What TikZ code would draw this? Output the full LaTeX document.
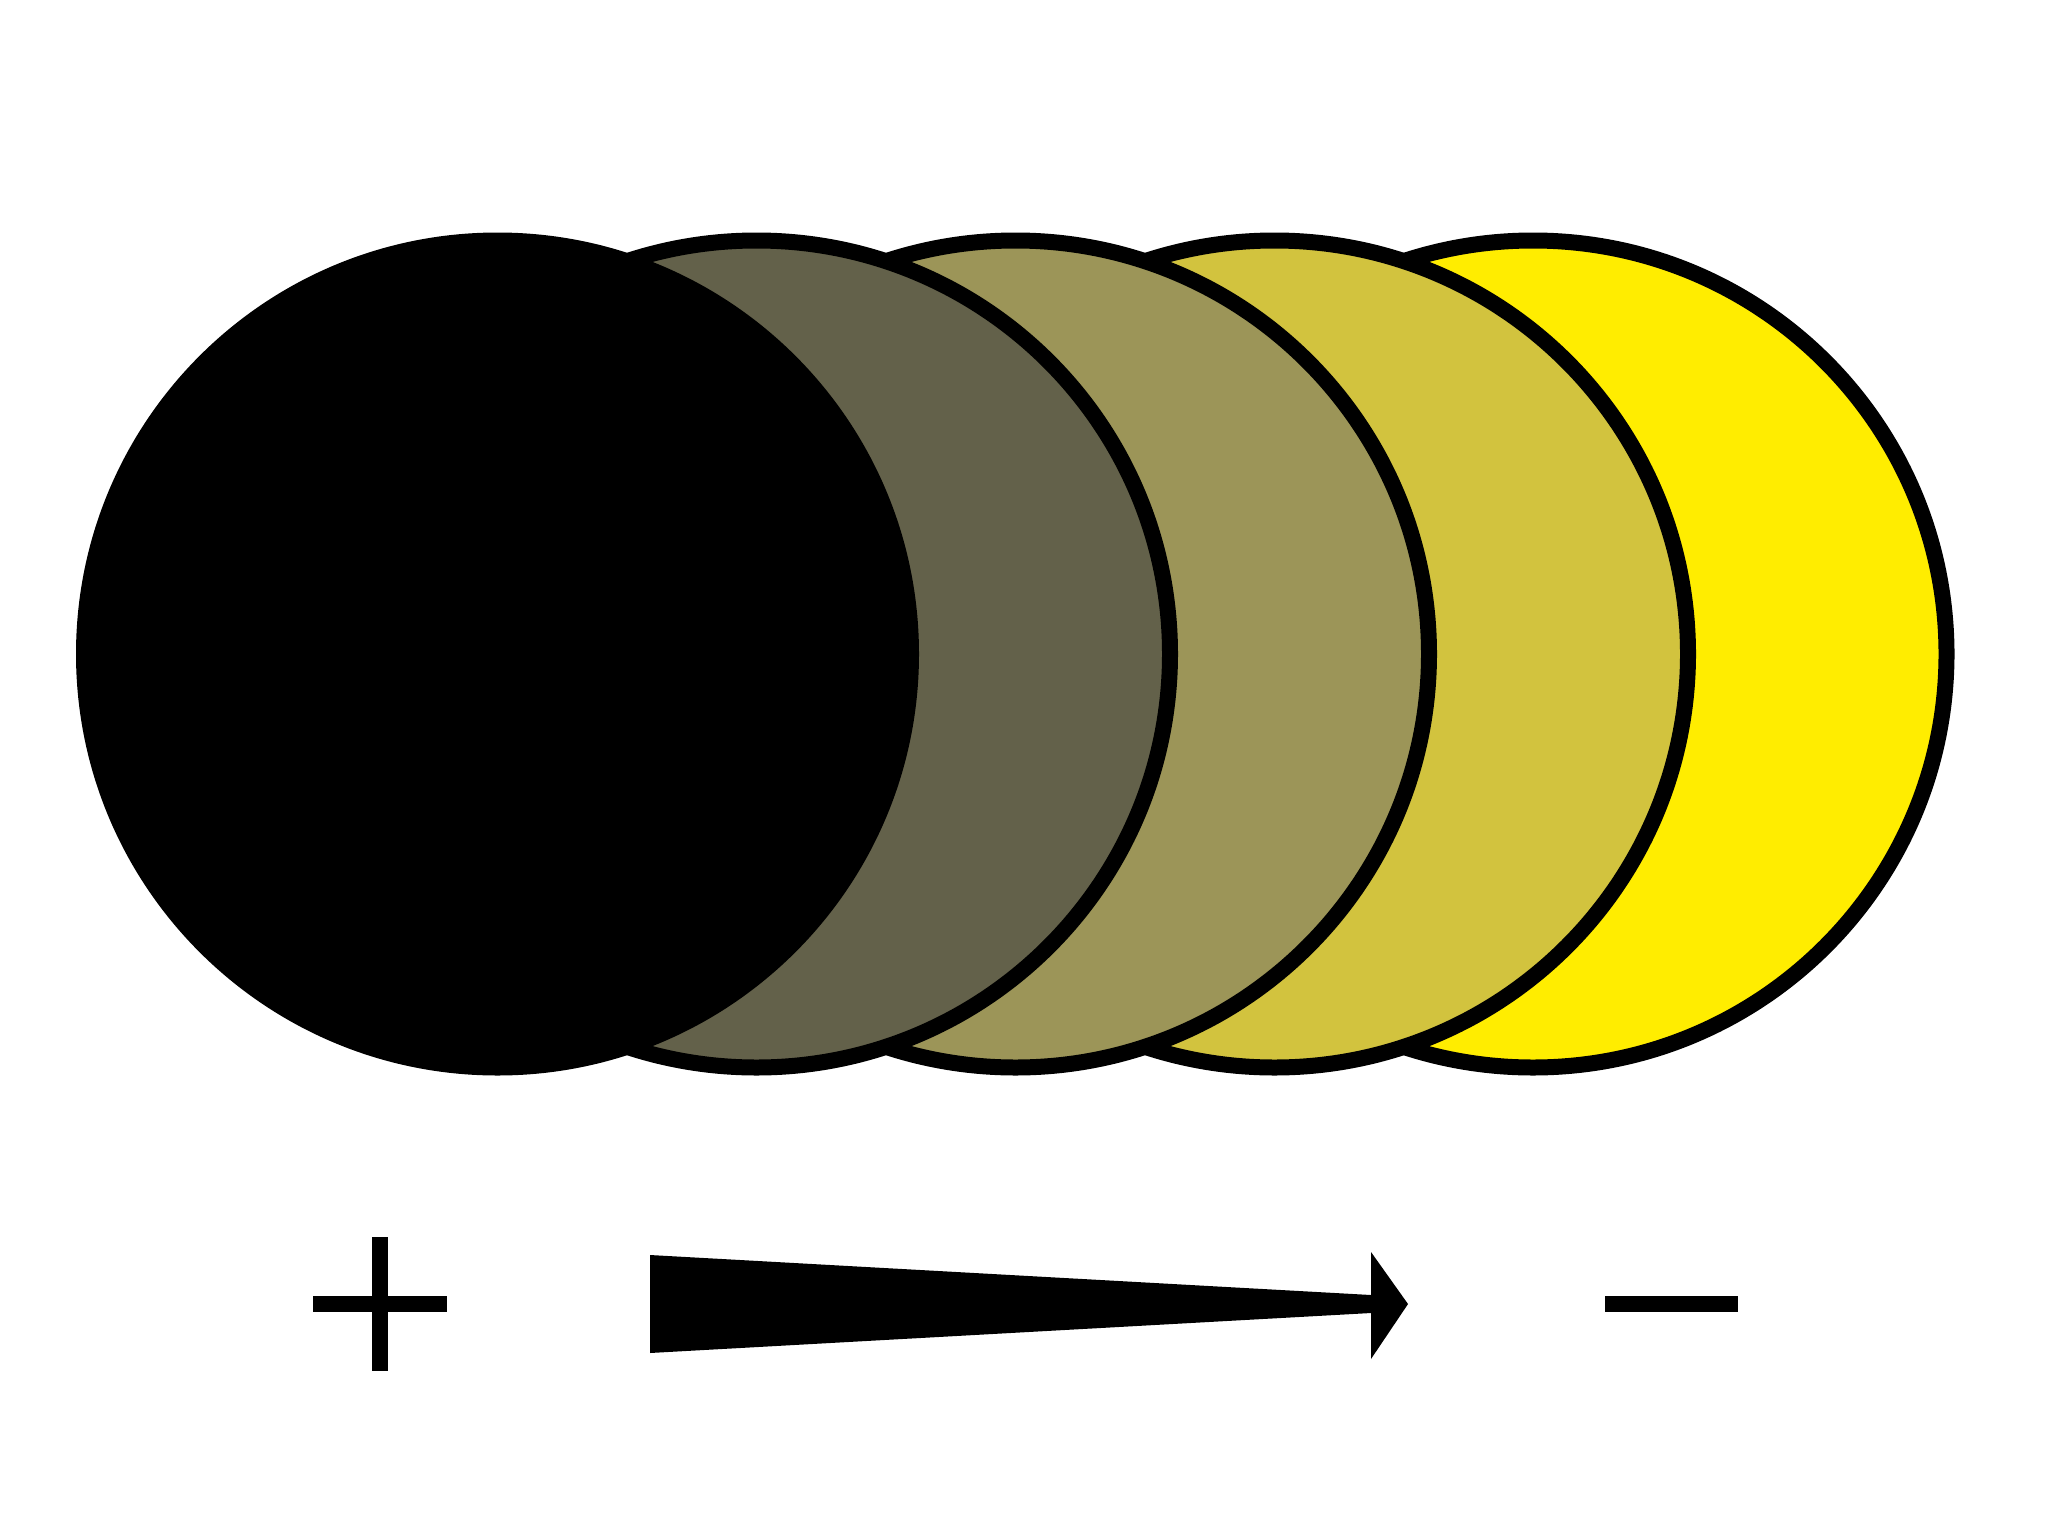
\documentclass[tikz,border=0pt]{standalone}
\definecolor{cdark}{RGB}{99,97,74}
\definecolor{colive}{RGB}{156,149,88}
\definecolor{cmustard}{RGB}{210,195,62}
\definecolor{cyellow}{RGB}{255,237,0}
\begin{document}
\begin{tikzpicture}[x=0.5pt,y=-0.5pt,
  disc/.style={draw=black,line width=8pt},
  signbox/.style={fill=black}]
\useasboundingbox (0,0) rectangle (2048,1536);
\fill[white] (0,0) rectangle (2048,1536);
% discs, back to front
\path[disc,fill=cyellow]  (1533,654) circle[radius=413.5];
\path[disc,fill=cmustard] (1274.5,654) circle[radius=413.5];
\path[disc,fill=colive]   (1015.5,654) circle[radius=413.5];
\path[disc,fill=cdark]    (756.5,654) circle[radius=413.5];
\path[disc,fill=black]    (497.5,654) circle[radius=413.5];
% plus sign
\fill[signbox] (313,1296) rectangle (447,1312);
\fill[signbox] (372,1237) rectangle (388,1371);
% tapered arrow
\fill[signbox] (650,1255) -- (1371,1295) -- (1371,1252) -- (1408,1304)
  -- (1371,1359) -- (1371,1313) -- (650,1353) -- cycle;
% minus sign
\fill[signbox] (1605,1296) rectangle (1738,1312);
\end{tikzpicture}
\end{document}
